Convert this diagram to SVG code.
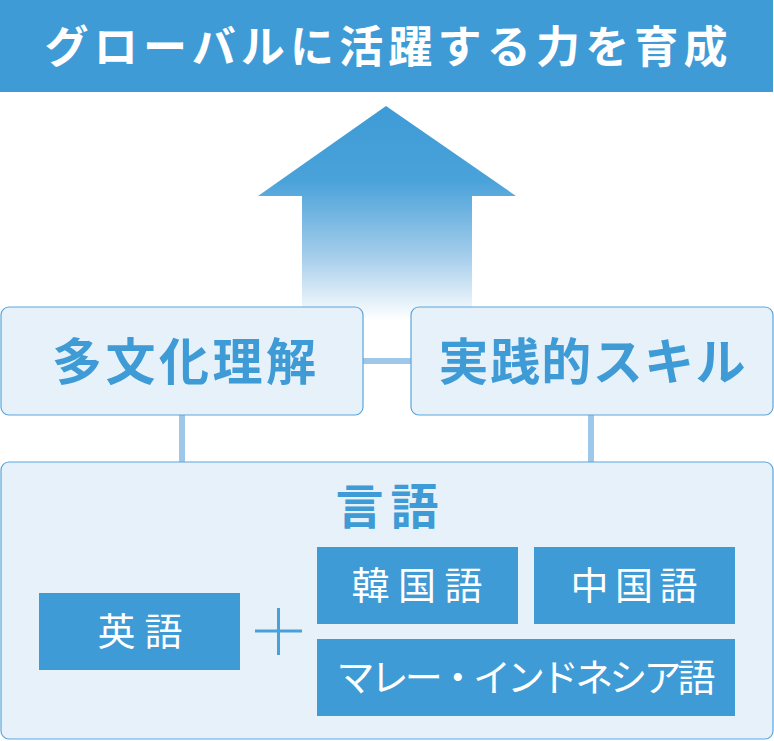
<svg xmlns="http://www.w3.org/2000/svg" width="774" height="741" viewBox="0 0 774 741">
<defs>
<linearGradient id="arrowGrad" x1="0" y1="106" x2="0" y2="320" gradientUnits="userSpaceOnUse">
<stop offset="0" stop-color="#3e9bd6"/>
<stop offset="0.35" stop-color="#4aa2d9"/>
<stop offset="0.7" stop-color="#a4cdeb"/>
<stop offset="1" stop-color="#ffffff"/>
</linearGradient>
<style>
.jp{font-family:"Noto Sans CJK JP","Noto Sans CJK SC",sans-serif;}
.light{fill:#e6f1fa;stroke:#5aa6dc;stroke-width:1.2;}
.solid{fill:#3e9bd6;}
.conn{stroke:#9dc8ea;stroke-width:6;fill:none;}
.big{font-weight:bold;fill:#3e9bd6;}
.wt{fill:#ffffff;font-weight:normal;}
</style>
</defs>
<rect width="774" height="741" fill="#ffffff"/>
<g id="title">
<rect x="0" y="0" width="773" height="92" class="solid"/>
<text x="386" y="63" class="jp" font-size="44" font-weight="bold" fill="#ffffff" text-anchor="middle" textLength="683" lengthAdjust="spacing">グローバルに活躍する力を育成</text>
</g>
<g id="arrow">
<polygon points="386,106 516,196 472,196 472,320 302,320 302,196 258,196" fill="url(#arrowGrad)"/>
</g>
<g id="connectors">
<line x1="363" y1="361" x2="411" y2="361" class="conn"/>
<line x1="182" y1="415" x2="182" y2="462" class="conn"/>
<line x1="591" y1="415" x2="591" y2="462" class="conn"/>
</g>
<g id="tabunka">
<rect x="1" y="307" width="362" height="108" rx="8" class="light"/>
<text x="184" y="380" class="jp big" font-size="50" text-anchor="middle" textLength="264" lengthAdjust="spacing">多文化理解</text>
</g>
<g id="jissen">
<rect x="411" y="307" width="362" height="108" rx="8" class="light"/>
<text x="592" y="380" class="jp big" font-size="50" text-anchor="middle" textLength="307" lengthAdjust="spacing">実践的スキル</text>
</g>
<g id="gengo">
<rect x="1" y="462" width="772" height="277" rx="8" class="light"/>
<text x="387" y="524" class="jp big" font-size="48" text-anchor="middle" textLength="103" lengthAdjust="spacing">言語</text>
</g>
<g id="eigo">
<rect x="39" y="593" width="201" height="77" class="solid"/>
<text x="140" y="645" class="jp wt" font-size="38" text-anchor="middle" textLength="85" lengthAdjust="spacing">英語</text>
</g>
<g id="plus">
<line x1="255" y1="631" x2="302" y2="631" stroke="#4aa0d8" stroke-width="3"/>
<line x1="278.5" y1="608" x2="278.5" y2="655" stroke="#4aa0d8" stroke-width="3"/>
</g>
<g id="kankokugo">
<rect x="317" y="547" width="201" height="77" class="solid"/>
<text x="417" y="599" class="jp wt" font-size="38" text-anchor="middle" textLength="131" lengthAdjust="spacing">韓国語</text>
</g>
<g id="chugokugo">
<rect x="534" y="547" width="201" height="77" class="solid"/>
<text x="634" y="599" class="jp wt" font-size="38" text-anchor="middle" textLength="127" lengthAdjust="spacing">中国語</text>
</g>
<g id="malay">
<rect x="317" y="639" width="418" height="77" class="solid"/>
<text x="526" y="691" class="jp wt" font-size="38" text-anchor="middle" textLength="379" lengthAdjust="spacing">マレー・インドネシア語</text>
</g>
</svg>
